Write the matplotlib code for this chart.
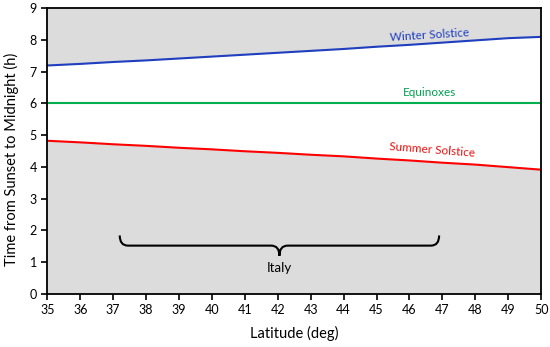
import matplotlib.pyplot as plt
import numpy as np
from matplotlib.path import Path
import matplotlib.patches as patches

plt.rcParams['font.family'] = ['Lato', 'DejaVu Sans']

latitude = [35, 36, 37, 38, 39, 40, 41, 42, 43, 44, 45, 46, 47, 48, 49, 50]
winter = [7.19, 7.24, 7.30, 7.35, 7.41, 7.47, 7.53, 7.59, 7.65, 7.71, 7.78, 7.84, 7.91, 7.98, 8.05, 8.09]
equinox = [6.0] * 16
summer = [4.82, 4.77, 4.71, 4.66, 4.60, 4.55, 4.49, 4.44, 4.38, 4.33, 4.26, 4.20, 4.13, 4.07, 3.99, 3.91]

italy_range = [37.2, 46.9]
italy_y = 1.52

grey = "#DCDCDC"

fig, ax = plt.subplots(figsize=(5.5, 3.47), dpi=100)
fig.subplots_adjust(left=0.086, right=0.984, top=0.977, bottom=0.153)

ax.set_facecolor(grey)
ax.fill_between(latitude, summer, winter, color="white", lw=0)
ax.plot(latitude, winter, color="#1F3FBF", lw=1.5)
ax.plot(latitude, equinox, color="#00B050", lw=1.5)
ax.plot(latitude, summer, color="#FF0000", lw=1.5)

ax.text(46.6, 8.16, "Winter Solstice", color="#1F3FBF", fontsize=8.5, ha="center", va="center", rotation=3.5)
ax.text(46.6, 6.35, "Equinoxes", color="#00A050", fontsize=8.5, ha="center", va="center")
ax.text(46.7, 4.53, "Summer Solstice", color="#E81010", fontsize=8.5, ha="center", va="center", rotation=-4.5)

# brace for Italy
x0, x1 = italy_range
xm = (x0 + x1) / 2
y = italy_y
h = 0.32
d = 0.25
verts = [
    (x0, y + h), (x0, y), (x0 + d, y), (xm - d, y), (xm, y), (xm, y - h),
    (xm, y), (xm + d, y), (x1 - d, y), (x1, y), (x1, y + h),
]
codes = [Path.MOVETO, Path.CURVE3, Path.CURVE3, Path.LINETO, Path.CURVE3, Path.CURVE3,
         Path.CURVE3, Path.CURVE3, Path.LINETO, Path.CURVE3, Path.CURVE3]
ax.add_patch(patches.PathPatch(Path(verts, codes), fill=False, lw=1.5, color="black"))
ax.text(xm, 0.82, "Italy", fontsize=9.5, ha="center", va="center")

ax.set_xlim(35, 50)
ax.set_ylim(0, 9)
ax.set_xticks(range(35, 51))
ax.set_yticks(range(0, 10))
ax.tick_params(direction="out", length=4, width=1.2, labelsize=9)
for s in ax.spines.values():
    s.set_linewidth(1.3)
ax.set_xlabel("Latitude (deg)", fontsize=10.5)
ax.set_ylabel("Time from Sunset to Midnight (h)", fontsize=10.5)
ax.xaxis.set_label_coords(0.5, -0.113)
ax.yaxis.set_label_coords(-0.058, 0.47)

fig.savefig("out.png")
